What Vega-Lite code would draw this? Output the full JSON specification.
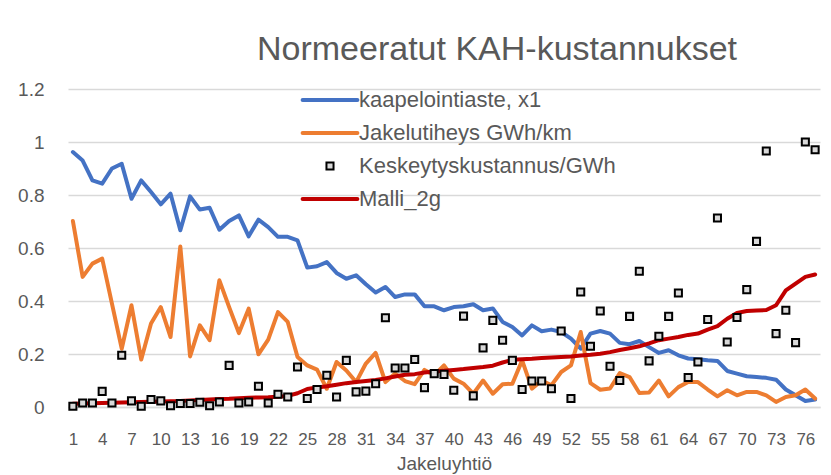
{
  "$schema": "https://vega.github.io/schema/vega-lite/v6.json",
  "autosize": "none",
  "width": 752,
  "height": 318,
  "padding": {"left": 68, "top": 89, "right": 11, "bottom": 68},
  "background": "white",
  "title": {"text": "Normeeratut KAH-kustannukset", "fontSize": 34, "font": "Liberation Sans", "fontWeight": "normal", "color": "#595959", "anchor": "middle", "frame": "group", "dx": 53, "offset": 13},
  "data": {"values": [
    {"x":1,"k":0.962,"j":0.702,"s":0.003,"m":0.012},
    {"x":2,"k":0.93,"j":0.491,"s":0.015,"m":0.013},
    {"x":3,"k":0.855,"j":0.541,"s":0.015,"m":0.014},
    {"x":4,"k":0.843,"j":0.56,"s":0.059,"m":0.015},
    {"x":5,"k":0.9,"j":0.39,"s":0.015,"m":0.016},
    {"x":6,"k":0.918,"j":0.22,"s":0.195,"m":0.017},
    {"x":7,"k":0.786,"j":0.384,"s":0.023,"m":0.018},
    {"x":8,"k":0.855,"j":0.179,"s":0.003,"m":0.019},
    {"x":9,"k":0.811,"j":0.315,"s":0.028,"m":0.02},
    {"x":10,"k":0.765,"j":0.377,"s":0.023,"m":0.021},
    {"x":11,"k":0.805,"j":0.264,"s":0.005,"m":0.022},
    {"x":12,"k":0.667,"j":0.606,"s":0.013,"m":0.023},
    {"x":13,"k":0.795,"j":0.191,"s":0.013,"m":0.025},
    {"x":14,"k":0.745,"j":0.308,"s":0.018,"m":0.026},
    {"x":15,"k":0.752,"j":0.252,"s":0.005,"m":0.028},
    {"x":16,"k":0.669,"j":0.478,"s":0.019,"m":0.03},
    {"x":17,"k":0.702,"j":0.377,"s":0.157,"m":0.031},
    {"x":18,"k":0.723,"j":0.279,"s":0.015,"m":0.033},
    {"x":19,"k":0.644,"j":0.371,"s":0.019,"m":0.035},
    {"x":20,"k":0.707,"j":0.199,"s":0.078,"m":0.036},
    {"x":21,"k":0.679,"j":0.254,"s":0.015,"m":0.037},
    {"x":22,"k":0.642,"j":0.358,"s":0.048,"m":0.039},
    {"x":23,"k":0.642,"j":0.321,"s":0.038,"m":0.042},
    {"x":24,"k":0.629,"j":0.189,"s":0.151,"m":0.052},
    {"x":25,"k":0.526,"j":0.157,"s":0.032,"m":0.068},
    {"x":26,"k":0.531,"j":0.141,"s":0.066,"m":0.074},
    {"x":27,"k":0.547,"j":0.069,"s":0.12,"m":0.078},
    {"x":28,"k":0.506,"j":0.17,"s":0.038,"m":0.084},
    {"x":29,"k":0.484,"j":0.138,"s":0.176,"m":0.09},
    {"x":30,"k":0.497,"j":0.094,"s":0.057,"m":0.094},
    {"x":31,"k":0.463,"j":0.164,"s":0.06,"m":0.098},
    {"x":32,"k":0.432,"j":0.204,"s":0.088,"m":0.102},
    {"x":33,"k":0.453,"j":0.094,"s":0.337,"m":0.108},
    {"x":34,"k":0.415,"j":0.126,"s":0.147,"m":0.115},
    {"x":35,"k":0.425,"j":0.098,"s":0.147,"m":0.122},
    {"x":36,"k":0.425,"j":0.086,"s":0.179,"m":0.124},
    {"x":37,"k":0.38,"j":0.14,"s":0.073,"m":0.13},
    {"x":38,"k":0.38,"j":0.12,"s":0.126,"m":0.134},
    {"x":39,"k":0.365,"j":0.157,"s":0.123,"m":0.137},
    {"x":40,"k":0.377,"j":0.107,"s":0.063,"m":0.14},
    {"x":41,"k":0.38,"j":0.088,"s":0.343,"m":0.143},
    {"x":42,"k":0.388,"j":0.05,"s":0.042,"m":0.147},
    {"x":43,"k":0.365,"j":0.1,"s":0.223,"m":0.151},
    {"x":44,"k":0.372,"j":0.05,"s":0.327,"m":0.156},
    {"x":45,"k":0.321,"j":0.086,"s":0.252,"m":0.168},
    {"x":46,"k":0.302,"j":0.088,"s":0.176,"m":0.178},
    {"x":47,"k":0.27,"j":0.176,"s":0.066,"m":0.18},
    {"x":48,"k":0.308,"j":0.069,"s":0.098,"m":0.182},
    {"x":49,"k":0.286,"j":0.1,"s":0.098,"m":0.185},
    {"x":50,"k":0.292,"j":0.082,"s":0.069,"m":0.187},
    {"x":51,"k":0.283,"j":0.132,"s":0.287,"m":0.189},
    {"x":52,"k":0.258,"j":0.157,"s":0.032,"m":0.191},
    {"x":53,"k":0.22,"j":0.283,"s":0.434,"m":0.194},
    {"x":54,"k":0.277,"j":0.09,"s":0.229,"m":0.197},
    {"x":55,"k":0.287,"j":0.065,"s":0.362,"m":0.201},
    {"x":56,"k":0.277,"j":0.07,"s":0.154,"m":0.207},
    {"x":57,"k":0.242,"j":0.128,"s":0.1,"m":0.215},
    {"x":58,"k":0.237,"j":0.113,"s":0.342,"m":0.222},
    {"x":59,"k":0.249,"j":0.053,"s":0.512,"m":0.229},
    {"x":60,"k":0.226,"j":0.055,"s":0.174,"m":0.24},
    {"x":61,"k":0.204,"j":0.1,"s":0.267,"m":0.252},
    {"x":62,"k":0.214,"j":0.04,"s":0.342,"m":0.258},
    {"x":63,"k":0.195,"j":0.075,"s":0.43,"m":0.264},
    {"x":64,"k":0.183,"j":0.094,"s":0.111,"m":0.272},
    {"x":65,"k":0.18,"j":0.094,"s":0.17,"m":0.277},
    {"x":66,"k":0.176,"j":0.066,"s":0.33,"m":0.292},
    {"x":67,"k":0.174,"j":0.04,"s":0.713,"m":0.305},
    {"x":68,"k":0.136,"j":0.063,"s":0.245,"m":0.333},
    {"x":69,"k":0.126,"j":0.044,"s":0.338,"m":0.355},
    {"x":70,"k":0.116,"j":0.057,"s":0.443,"m":0.362},
    {"x":71,"k":0.113,"j":0.057,"s":0.625,"m":0.364},
    {"x":72,"k":0.11,"j":0.044,"s":0.966,"m":0.366},
    {"x":73,"k":0.103,"j":0.019,"s":0.277,"m":0.384},
    {"x":74,"k":0.066,"j":0.038,"s":0.365,"m":0.44},
    {"x":75,"k":0.044,"j":0.044,"s":0.243,"m":0.466},
    {"x":76,"k":0.023,"j":0.066,"s":1.0,"m":0.491},
    {"x":77,"k":0.028,"j":0.032,"s":0.971,"m":0.5}
  ]},
  "encoding": {
    "x": {"field": "x", "type": "ordinal", "scale": {"type": "point", "padding": 0.5},
      "axis": {"values": [1,4,7,10,13,16,19,22,25,28,31,34,37,40,43,46,49,52,55,58,61,64,67,70,73,76], "labelAngle": 0, "ticks": false, "domainColor": "#d9d9d9", "domainWidth": 1.5, "labelFontSize": 17, "labelColor": "#595959", "labelFont": "Liberation Sans", "labelPadding": 24, "title": "Jakeluyhtiö", "titleFontSize": 19, "titleColor": "#595959", "titleFont": "Liberation Sans", "titleFontWeight": "normal", "titlePadding": 7, "grid": false}}
  },
  "layer": [
    {"mark": {"type": "line", "strokeWidth": 4, "strokeJoin": "round", "strokeCap": "round"},
     "encoding": {
       "y": {"field": "k", "type": "quantitative", "scale": {"domain": [0, 1.2]},
         "axis": {"values": [0,0.2,0.4,0.6,0.8,1,1.2], "format": "~g", "title": null, "domain": false, "ticks": false, "gridColor": "#d9d9d9", "gridWidth": 1.5, "labelFontSize": 19, "labelColor": "#595959", "labelFont": "Liberation Sans", "labelPadding": 24}},
       "color": {"datum": "kaapelointiaste, x1",
         "scale": {"domain": ["kaapelointiaste, x1", "Jakelutiheys GWh/km", "Keskeytyskustannus/GWh", "Malli_2g"], "range": ["#4472C4", "#ED7D31", "#000000", "#C00000"]},
         "legend": {"title": null, "orient": "none", "legendX": 251, "legendY": 0, "padding": 0, "symbolSize": 50, "labelOffset": 18, "rowPadding": 11, "labelFontSize": 22, "labelColor": "#595959", "labelFont": "Liberation Sans", "labelLimit": 400,
           "encode": {"symbols": {"update": {
             "shape": {"signal": "datum.value === 'Keskeytyskustannus/GWh' ? 'square' : 'stroke'"},
             "size": {"signal": "datum.value === 'Keskeytyskustannus/GWh' ? 50 : 3000"},
             "fill": {"signal": "datum.value === 'Keskeytyskustannus/GWh' ? '#d9d9d9' : 'transparent'"},
             "stroke": {"signal": "scale('color', datum.value)"},
             "strokeWidth": {"signal": "datum.value === 'Keskeytyskustannus/GWh' ? 2 : 4"},
             "strokeCap": {"value": "round"},
             "opacity": {"value": 1}
           }}}}}
     }},
    {"mark": {"type": "line", "strokeWidth": 4, "strokeJoin": "round", "strokeCap": "round"},
     "encoding": {"y": {"field": "j", "type": "quantitative"}, "color": {"datum": "Jakelutiheys GWh/km"}}},
    {"mark": {"type": "line", "strokeWidth": 4, "strokeJoin": "round", "strokeCap": "round"},
     "encoding": {"y": {"field": "m", "type": "quantitative"}, "color": {"datum": "Malli_2g"}}},
    {"mark": {"type": "point", "shape": "square", "filled": false, "fill": "#d9d9d9", "strokeWidth": 2, "size": 50, "opacity": 1},
     "encoding": {"y": {"field": "s", "type": "quantitative"}, "color": {"datum": "Keskeytyskustannus/GWh"}}}
  ],
  "config": {"view": {"stroke": null}}
}
